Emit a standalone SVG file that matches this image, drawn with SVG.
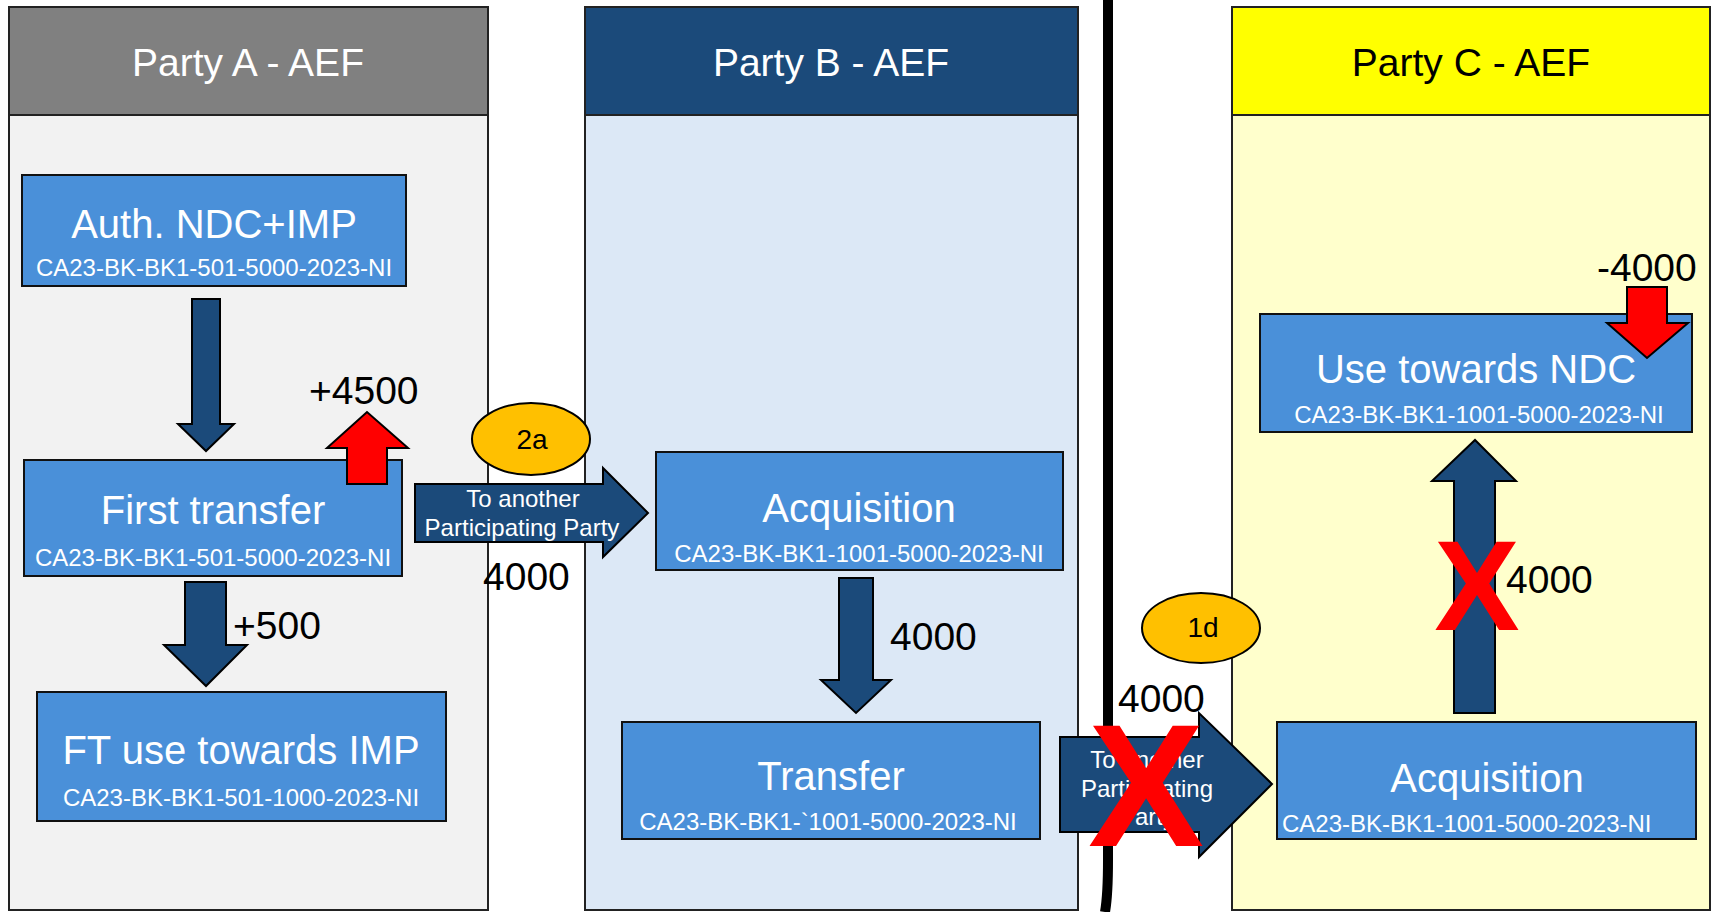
<svg xmlns="http://www.w3.org/2000/svg" width="1714" height="912" viewBox="0 0 1714 912">
<style>
.panel{stroke:#222;stroke-width:2}
.hdr{font-family:"Liberation Sans",Arial,sans-serif;font-size:39px;text-anchor:middle}
.box{fill:#4A90D9;stroke:#111;stroke-width:2}
.t{font-family:"Liberation Sans",Arial,sans-serif;font-size:40px;fill:#fff;text-anchor:middle}
.c{font-family:"Liberation Sans",Arial,sans-serif;font-size:24px;fill:#fff;text-anchor:middle}
.cs{font-family:"Liberation Sans",Arial,sans-serif;font-size:24px;fill:#fff;text-anchor:start}
.num{font-family:"Liberation Sans",Arial,sans-serif;font-size:39px;fill:#000}
.nav{fill:#1B4A7A;stroke:#000;stroke-width:2;stroke-linejoin:miter}
.red{fill:#FF0000;stroke:#000;stroke-width:2}
.al{font-family:"Liberation Sans",Arial,sans-serif;font-size:24px;fill:#fff;text-anchor:middle}
.ell{fill:#FFC000;stroke:#000;stroke-width:2}
.et{font-family:"Liberation Sans",Arial,sans-serif;font-size:28px;fill:#000;text-anchor:middle}
.x{font-family:"Liberation Sans",Arial,sans-serif;font-weight:bold;fill:#FF0000;text-anchor:middle}
</style>
<rect width="1714" height="912" fill="#fff"/>
<g id="panel-a">
<rect class="panel" x="9" y="7" width="479" height="903" fill="#F2F2F2"/>
<rect class="panel" x="9" y="7" width="479" height="108" fill="#808080"/>
<text class="hdr" x="248" y="76" fill="#fff">Party A - AEF</text>
</g>
<g id="panel-b">
<rect class="panel" x="585" y="7" width="493" height="903" fill="#DCE8F6"/>
<rect class="panel" x="585" y="7" width="493" height="108" fill="#1B4A7A"/>
<text class="hdr" x="831" y="76" fill="#fff">Party B - AEF</text>
</g>
<g id="panel-c">
<rect class="panel" x="1232" y="7" width="478" height="903" fill="#FFFFCC"/>
<rect class="panel" x="1232" y="7" width="478" height="108" fill="#FFFF00"/>
<text class="hdr" x="1471" y="76" fill="#000">Party C - AEF</text>
</g>
<path id="divider" d="M1108,0 L1108,860 Q1108,895 1105,912" fill="none" stroke="#000" stroke-width="10"/>
<g id="node-auth">
<rect class="box" x="22" y="175" width="384" height="111"/>
<text class="t" x="214" y="238">Auth. NDC+IMP</text>
<text class="c" x="214" y="276">CA23-BK-BK1-501-5000-2023-NI</text>
</g>
<g id="node-first-transfer">
<rect class="box" x="24" y="460" width="378" height="116"/>
<text class="t" x="213" y="524">First transfer</text>
<text class="c" x="213" y="566">CA23-BK-BK1-501-5000-2023-NI</text>
</g>
<g id="node-ft-use">
<rect class="box" x="37" y="692" width="409" height="129"/>
<text class="t" x="241" y="764">FT use towards IMP</text>
<text class="c" x="241" y="806">CA23-BK-BK1-501-1000-2023-NI</text>
</g>
<g id="node-acq-b">
<rect class="box" x="656" y="452" width="407" height="118"/>
<text class="t" x="859" y="522">Acquisition</text>
<text class="c" x="859" y="562">CA23-BK-BK1-1001-5000-2023-NI</text>
</g>
<g id="node-transfer-b">
<rect class="box" x="622" y="722" width="418" height="117"/>
<text class="t" x="831" y="790">Transfer</text>
<text class="c" x="828" y="830">CA23-BK-BK1-`1001-5000-2023-NI</text>
</g>
<g id="node-use-ndc">
<rect class="box" x="1260" y="314" width="432" height="118"/>
<text class="t" x="1476" y="383">Use towards NDC</text>
<text class="c" x="1479" y="423">CA23-BK-BK1-1001-5000-2023-NI</text>
</g>
<g id="node-acq-c">
<rect class="box" x="1277" y="722" width="419" height="117"/>
<text class="t" x="1487" y="792">Acquisition</text>
<text class="cs" x="1282" y="832">CA23-BK-BK1-1001-5000-2023-NI</text>
</g>
<g id="connectors">
<path class="nav" d="M192,299 L220,299 L220,424 L234,424 L206,451 L178,424 L192,424 Z"/>
<path class="nav" d="M185,582 L226,582 L226,645 L247,645 L206,686 L164,645 L185,645 Z"/>
<path class="red" d="M347,484 L387,484 L387,448 L408,448 L367,412 L327,448 L347,448 Z"/>
<path class="nav" d="M415,484 L603,484 L603,468 L648,513 L603,557 L603,542 L415,542 Z"/>
<text class="al" x="523" y="507">To another</text>
<text class="al" x="522" y="536">Participating Party</text>
<path class="nav" d="M839,578 L873,578 L873,680 L891,680 L856,713 L821,680 L839,680 Z"/>
<path class="nav" d="M1060,737 L1199,737 L1199,713 L1272,784 L1199,857 L1199,832 L1060,832 Z"/>
<text class="al" x="1147" y="768">To another</text>
<text class="al" x="1147" y="797">Participating</text>
<text class="al" x="1147" y="825">Party</text>
<path class="nav" d="M1454,713 L1495,713 L1495,481 L1516,481 L1475,440 L1432,481 L1454,481 Z"/>
<path class="red" d="M1627,287 L1667,287 L1667,323 L1688,323 L1647,358 L1607,323 L1627,323 Z"/>
</g>
<g id="badge-2a">
<ellipse class="ell" cx="531" cy="439" rx="59" ry="36"/>
<text class="et" x="532" y="449">2a</text>
</g>
<g id="badge-1d">
<ellipse class="ell" cx="1201" cy="628" rx="59" ry="35"/>
<text class="et" x="1203" y="637">1d</text>
</g>
<g id="labels">
<text class="num" x="309" y="404">+4500</text>
<text class="num" x="233" y="639">+500</text>
<text class="num" x="483" y="590">4000</text>
<text class="num" x="890" y="650">4000</text>
<text class="num" x="1118" y="712">4000</text>
<text class="num" x="1506" y="593">4000</text>
<text class="num" x="1597" y="281">-4000</text>
</g>
<g id="crosses">
<text class="x" x="1146" y="846" font-size="174">X</text>
<text class="x" x="1477" y="630" font-size="128">X</text>
</g>
</svg>
